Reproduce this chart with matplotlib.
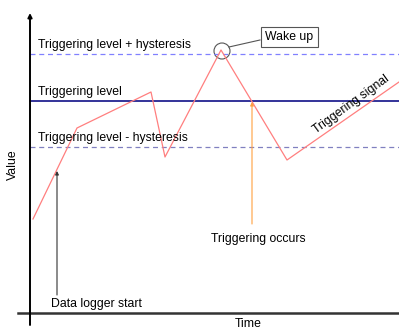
import matplotlib.pyplot as plt
from matplotlib.patches import Circle

plt.rcParams['font.family'] = ['Liberation Sans', 'DejaVu Sans']

# chart values (arbitrary units, time to the right, value upwards)
sig_t = [33, 77, 151, 165, 221, 287, 399]
sig_v = [110, 201, 237, 172, 279, 169, 247]
upper_level = 275
trig_level = 228
lower_level = 182
level_labels = ['Triggering level + hysteresis', 'Triggering level',
                'Triggering level - hysteresis']
wake_t, wake_v = 222, 278
trig_t = 252
start_t = 57

FS = 8.8

fig = plt.figure(figsize=(3.99, 3.29), dpi=100)
ax = fig.add_axes([0, 0, 1, 1])
ax.set_xlim(0, 399)
ax.set_ylim(0, 329)
ax.axis('off')

# axes
ax.plot([18, 399], [16, 16], color='#333333', lw=1.8)
ax.annotate('', xy=(30, 316), xytext=(30, 4),
            arrowprops=dict(arrowstyle='-|>', color='black', lw=1.4,
                            mutation_scale=6, shrinkA=0, shrinkB=0))
ax.text(13, 164, 'Value', rotation=90, ha='center', va='center', fontsize=FS)
ax.text(248, 5, 'Time', ha='center', va='center', fontsize=FS)

# levels
ax.plot([30, 399], [upper_level] * 2, color='#8080ff', lw=0.9, ls=(0, (4, 3)))
ax.plot([30, 399], [trig_level] * 2, color='#333399', lw=1.4)
ax.plot([30, 399], [lower_level] * 2, color='#8080c0', lw=0.9, ls=(0, (4, 3)))
for lv, lab in zip([upper_level, trig_level, lower_level], level_labels):
    ax.text(38, lv + 9, lab, ha='left', va='center', fontsize=FS)

# signal
ax.plot(sig_t, sig_v, color='#ff7f7f', lw=0.9)
ax.text(351, 225, 'Triggering signal', rotation=36, ha='center', va='center',
        fontsize=FS)

# wake up
ax.add_patch(Circle((wake_t, wake_v), 8, fill=False, ec='#555555', lw=0.8))
ax.plot([229, 260], [282, 289], color='#555555', lw=0.8)
ax.text(289.5, 292, 'Wake up', ha='center', va='center', fontsize=FS,
        bbox=dict(boxstyle='square,pad=0.35', fc='white', ec='#555555', lw=0.8))

# triggering occurs
ax.annotate('', xy=(trig_t, trig_level - 1), xytext=(trig_t, 105),
            arrowprops=dict(arrowstyle='-|>', color='#ffa040', lw=0.8,
                            mutation_scale=5, shrinkA=0, shrinkB=0))
ax.text(258, 90, 'Triggering occurs', ha='center', va='center', fontsize=FS)

# data logger start
ax.annotate('', xy=(start_t, 158), xytext=(start_t, 34),
            arrowprops=dict(arrowstyle='-|>', color='#333333', lw=0.8,
                            mutation_scale=5, shrinkA=0, shrinkB=0))
ax.text(51, 25, 'Data logger start', ha='left', va='center', fontsize=FS)

fig.savefig('out.png', dpi=100)
